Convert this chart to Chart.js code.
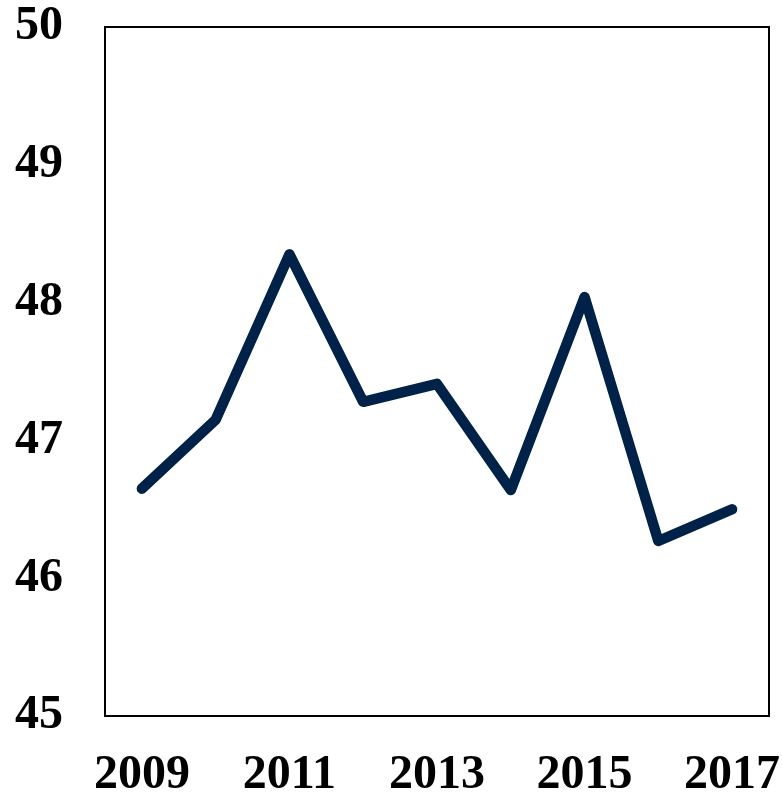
<!DOCTYPE html>
<html>
<head>
<meta charset="utf-8">
<script src="https://cdn.jsdelivr.net/npm/chart.js@4"></script>
<style>
  html, body { margin: 0; padding: 0; background: #fff; }
  #wrap { width: 782px; height: 793px; position: relative; }
</style>
</head>
<body>
<div id="wrap"><canvas id="lineChart"></canvas></div>
<script>
const years = ["2009", "2010", "2011", "2012", "2013", "2014", "2015", "2016", "2017"];
const values = [46.65, 47.15, 48.35, 47.28, 47.41, 46.64, 48.04, 46.27, 46.50];
const yTicks = [45, 46, 47, 48, 49, 50];

const labelFont = { family: "'Liberation Serif', 'Times New Roman', serif", size: 48, weight: 'bold' };

// draws the box round the plot area
const frame = {
    id: 'frame',
    afterDraw(chart) {
        const { ctx, chartArea: a } = chart;
        ctx.save();
        ctx.strokeStyle = '#000';
        ctx.lineWidth = 2;
        ctx.strokeRect(a.left, a.top, a.right - a.left, a.bottom - a.top);
        ctx.restore();
    }
};

const ctx = document.getElementById('lineChart').getContext('2d');
new Chart(ctx, {
    type: 'line',
    data: {
        labels: years,
        datasets: [{
            data: values,
            borderColor: '#002248',
            borderWidth: 10.5,
            borderJoinStyle: 'round',
            borderCapStyle: 'round',
            pointRadius: 0,
            tension: 0,
            fill: false
        }]
    },
    options: {
        responsive: true,
        maintainAspectRatio: false,
        animation: false,
        layout: { padding: { top: 27, right: 13, left: 0, bottom: 0 } },
        plugins: {
            legend: { display: false },
            tooltip: { enabled: false }
        },
        scales: {
            x: {
                offset: true,
                grid: { display: false },
                border: { display: false },
                ticks: {
                    autoSkip: false,
                    maxRotation: 0,
                    color: '#000',
                    font: labelFont,
                    padding: 23,
                    callback: (v, i) => i % 2 === 0 ? years[i] : ''
                },
                afterFit: s => {
                    s.height = 77;
                    s.paddingLeft = 0;
                    s.paddingRight = 0;
                }
            },
            y: {
                min: 45,
                max: 50,
                afterBuildTicks: s => { s.ticks = yTicks.map(v => ({ value: v })); },
                grid: { display: false },
                border: { display: false },
                ticks: {
                    color: '#000',
                    font: labelFont,
                    padding: 34
                },
                afterFit: s => {
                    s.width = 105;
                    s.paddingTop = 0;
                    s.paddingBottom = 0;
                }
            }
        }
    },
    plugins: [frame]
});
</script>
</body>
</html>
